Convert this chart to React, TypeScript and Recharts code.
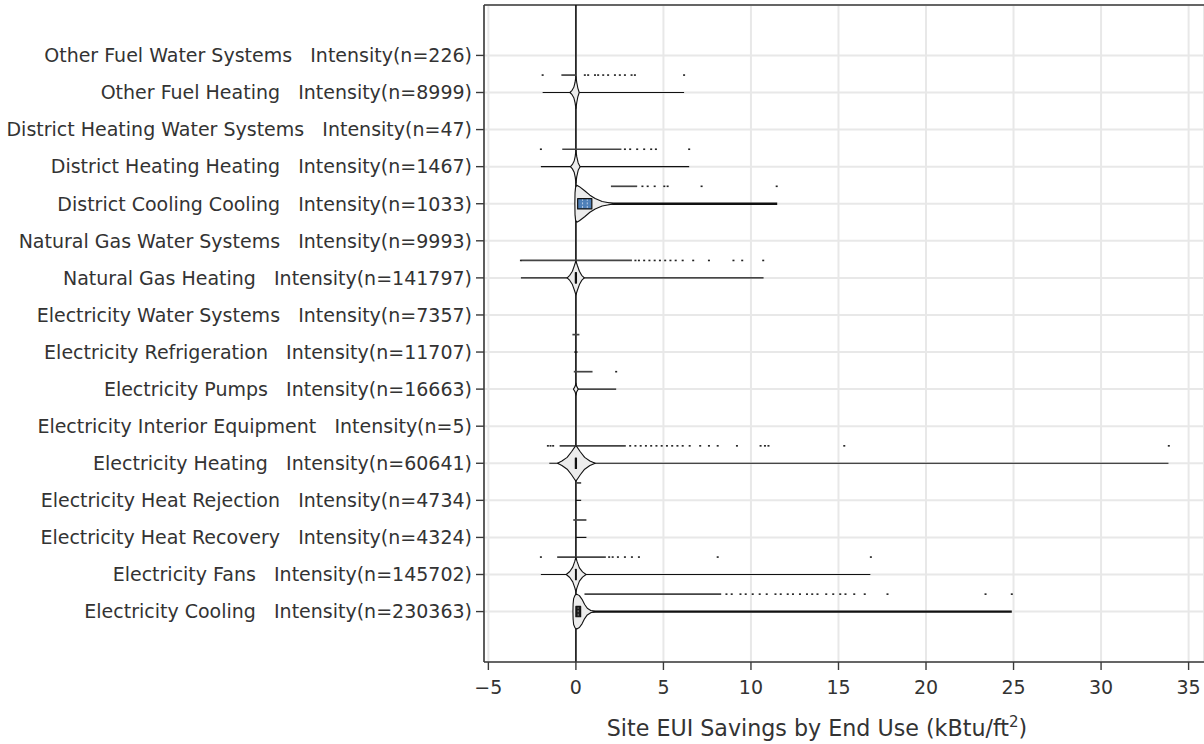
import React from "react";
import {
  ComposedChart,
  Scatter,
  XAxis,
  YAxis,
  CartesianGrid,
  ReferenceLine,
} from "recharts";

// ---------- data (top to bottom as displayed) ----------
const CATEGORIES = [
  "Other Fuel Water Systems",
  "Other Fuel Heating",
  "District Heating Water Systems",
  "District Heating Heating",
  "District Cooling Cooling",
  "Natural Gas Water Systems",
  "Natural Gas Heating",
  "Electricity Water Systems",
  "Electricity Refrigeration",
  "Electricity Pumps",
  "Electricity Interior Equipment",
  "Electricity Heating",
  "Electricity Heat Rejection",
  "Electricity Heat Recovery",
  "Electricity Fans",
  "Electricity Cooling",
];
const COUNTS = [226, 8999, 47, 1467, 1033, 9993, 141797, 7357, 11707, 16663, 5, 60641, 4734, 4324, 145702, 230363];

const X_TICKS = [-5, 0, 5, 10, 15, 20, 25, 30, 35];

const WHISKER_LOW = [0, -1.9, 0, -2.0, 0, 0, -3.14, 0, -0.1, 0, 0, -1.52, 0, 0, -2.0, 0.27];
const WHISKER_HIGH = [0, 6.18, 0, 6.47, 11.5, 0, 10.72, 0, 0.1, 2.3, 0, 33.85, 0.3, 0.6, 16.82, 24.9];

const BOX_Q1 = [null, null, null, null, 0.1, null, -0.03, null, null, null, null, -0.03, null, null, -0.02, 0.0];
const BOX_Q3 = [null, null, null, null, 0.91, null, 0.03, null, null, null, null, 0.03, null, null, 0.02, 0.27];
const BOX_INNER = [[], [], [], [], [0.38, 0.65], [], [], [], [], [], [], [], [], [], [], [0.13]];

// violin profiles: [value, half-width in category units]
const VIOLINS: number[][][] = [
  [],
  [[-0.34, 0], [-0.22, 0.06], [-0.12, 0.14], [-0.05, 0.27], [0, 0.43], [0.05, 0.27], [0.11, 0.12], [0.19, 0]],
  [],
  [[-0.31, 0], [-0.2, 0.06], [-0.1, 0.15], [-0.04, 0.28], [0, 0.44], [0.05, 0.27], [0.13, 0.1], [0.24, 0]],
  [[-0.06, 0], [-0.05, 0.3], [-0.02, 0.44], [0.05, 0.5], [0.2, 0.46], [0.5, 0.35], [0.8, 0.23], [1.1, 0.14], [1.5, 0.06], [2.2, 0]],
  [],
  [[-0.5, 0], [-0.35, 0.07], [-0.2, 0.18], [-0.08, 0.34], [0, 0.46], [0.08, 0.34], [0.2, 0.18], [0.33, 0.07], [0.48, 0]],
  [],
  [],
  [[-0.14, 0], [-0.05, 0.07], [0, 0.16], [0.05, 0.07], [0.13, 0]],
  [],
  [[-1.05, 0], [-0.8, 0.06], [-0.5, 0.16], [-0.25, 0.31], [-0.05, 0.45], [0, 0.48], [0.05, 0.45], [0.25, 0.31], [0.5, 0.16], [0.8, 0.06], [1.1, 0]],
  [],
  [],
  [[-0.55, 0], [-0.35, 0.08], [-0.18, 0.2], [-0.06, 0.36], [0, 0.47], [0.06, 0.36], [0.2, 0.18], [0.38, 0.07], [0.58, 0]],
  [[-0.17, 0], [-0.16, 0.2], [-0.13, 0.35], [-0.05, 0.44], [0.05, 0.47], [0.2, 0.43], [0.35, 0.33], [0.5, 0.19], [0.65, 0.09], [0.85, 0.03], [1.1, 0]],
];

// dense runs of observations (drawn as a solid run) and sparse single observations
const POINT_RUNS: number[][][] = [
  [],
  [[-0.83, 0]],
  [],
  [[-0.78, 2.6]],
  [[2.0, 3.5]],
  [],
  [[-3.1, 3.2]],
  [],
  [[-0.2, 0.2]],
  [[-0.12, 0.95]],
  [],
  [[-0.93, 2.85]],
  [[0, 0.3]],
  [[-0.15, 0.6]],
  [[-1.07, 1.71]],
  [[0.49, 8.3]],
];
const POINT_SINGLES: number[][] = [
  [],
  [-1.9, 0.51, 0.7, 1.09, 1.27, 1.56, 1.84, 2.23, 2.51, 2.8, 3.18, 3.37, 6.18],
  [],
  [-2.0, 2.8, 3.1, 3.5, 3.9, 4.3, 4.57, 6.47],
  [3.8, 4.1, 4.5, 5.05, 5.24, 7.18, 11.47],
  [],
  [-3.14, 3.4, 3.6, 3.9, 4.2, 4.5, 4.8, 5.1, 5.4, 5.7, 6.1, 6.7, 7.6, 9.0, 9.5, 10.7],
  [],
  [],
  [2.3],
  [],
  [-1.6, -1.45, -1.3, 3.1, 3.4, 3.7, 4.0, 4.3, 4.6, 4.9, 5.2, 5.5, 5.8, 6.1, 6.5, 7.1, 7.6, 8.1, 9.2, 10.55, 10.8, 11.0, 15.33, 33.87],
  [],
  [],
  [-2.0, 1.9, 2.1, 2.4, 2.8, 3.2, 3.6, 8.1, 16.85],
  [8.6, 8.9, 9.4, 9.7, 10.1, 10.5, 10.9, 11.4, 11.7, 12.1, 12.4, 12.8, 13.2, 13.5, 13.8, 14.3, 14.7, 15.1, 15.4, 15.9, 16.5, 17.8, 23.4, 24.9],
];

// ---------- layout / style constants ----------
const N = CATEGORIES.length;
const Y_MIN = -1.36;
const Y_MAX = 16.36;
const X_MIN = -5.25;
const X_MAX = 35.88;
const POINT_ROW = 0.47;
const BOX_HALF = 0.14;
const FONT = "DejaVu Sans, Verdana, sans-serif";
const TEXT = "#333";
const AXIS = "#3a3a3a";
const BOLD_WHISKER = new Set(["District Cooling Cooling", "Electricity Cooling"]);
const BOX_FILL: Record<string, string> = {
  "District Cooling Cooling": "#4f80b8",
  "Electricity Cooling": "#1a1a1a",
};
const INNER_STROKE: Record<string, string> = {
  "District Cooling Cooling": "#b9cde6",
  "Electricity Cooling": "#8a8a8a",
};

const pos = (i: number) => N - 1 - i;

const violinData = VIOLINS.map((prof, i) => {
  if (!prof.length) return [];
  const p = pos(i);
  const upper = prof.map(([x, h]) => ({ x, y: p + h }));
  const lower = prof.slice().reverse().map(([x, h]) => ({ x, y: p - h }));
  return [...upper, ...lower];
});

const boxData = CATEGORIES.map((_, i) => {
  const a = BOX_Q1[i];
  const b = BOX_Q3[i];
  if (a == null || b == null) return [];
  const p = pos(i);
  return [
    { x: a, y: p - BOX_HALF },
    { x: a, y: p + BOX_HALF },
    { x: b, y: p + BOX_HALF },
    { x: b, y: p - BOX_HALF },
  ];
});

const innerData = BOX_INNER.map((vals, i) =>
  vals.map((v) => [
    { x: v, y: pos(i) - BOX_HALF * 0.8 },
    { x: v, y: pos(i) + BOX_HALF * 0.8 },
  ])
);

const singlesData = POINT_SINGLES.flatMap((vals, i) => vals.map((x) => ({ x, y: pos(i) + POINT_ROW })));

const polygon = (fill: string, stroke: string, sw: number) => (props: any) => {
  const pts = props.points || [];
  if (!pts.length) return <g />;
  const d = "M" + pts.map((p: any) => `${p.x},${p.y}`).join("L") + "Z";
  return <path d={d} fill={fill} stroke={stroke} strokeWidth={sw} strokeLinejoin="round" />;
};

const segment = (stroke: string, sw: number, dash?: string) => (props: any) => {
  const pts = props.points || [];
  if (!pts.length) return <g />;
  const d = "M" + pts.map((p: any) => `${p.x},${p.y}`).join("L");
  return <path d={d} fill="none" stroke={stroke} strokeWidth={sw} strokeDasharray={dash} />;
};

const Nothing = () => <g />;

const Dot = (props: any) => {
  const { cx, cy } = props;
  if (cx == null || cy == null) return <g />;
  return <rect x={cx - 1} y={cy - 0.8} width={2} height={1.6} fill="#222" />;
};

const YTick = (props: any) => {
  const { x, y, payload } = props;
  const i = N - 1 - payload.value;
  if (i < 0 || i >= N) return <g />;
  return (
    <text x={x} y={y} dy="0.36em" textAnchor="end" fontSize={19} fill={TEXT} fontFamily={FONT}>
      <tspan>{CATEGORIES[i] + "\u00A0\u00A0\u00A0"}</tspan>
      <tspan>{"Intensity(n=" + COUNTS[i] + ")"}</tspan>
    </text>
  );
};

const XTick = (props: any) => {
  const { x, y, payload } = props;
  const v = payload.value;
  const s = v < 0 ? "\u2212" + Math.abs(v) : String(v);
  return (
    <text x={x} y={y} dy="0.71em" textAnchor="middle" fontSize={19} fill={TEXT} fontFamily={FONT}>
      {s}
    </text>
  );
};

const XTitle = (props: any) => {
  const vb = props.viewBox || { x: 0, y: 0, width: 0 };
  return (
    <text x={vb.x + vb.width / 2 - 27} y={vb.y + 74} textAnchor="middle" fontSize={22.2} fill={TEXT} fontFamily={FONT}>
      Site EUI Savings by End Use (kBtu/ft
      <tspan dy={-9} fontSize={15}>2</tspan>
      <tspan dy={9}>)</tspan>
    </text>
  );
};

export default function App() {
  return (
    <div style={{ position: "absolute", left: 0, top: 0, width: 1204, height: 744, background: "#fff" }}>
      <ComposedChart width={1204} height={744} margin={{ top: 5, right: 0, bottom: 0, left: 0 }}>
        <CartesianGrid stroke="#e8e8e8" strokeWidth={2} />
        <XAxis
          type="number"
          dataKey="x"
          domain={[X_MIN, X_MAX]}
          ticks={X_TICKS}
          allowDataOverflow
          height={82}
          tickSize={8}
          tickMargin={11}
          tick={<XTick />}
          axisLine={{ stroke: AXIS, strokeWidth: 1.6 }}
          tickLine={{ stroke: AXIS, strokeWidth: 1.4 }}
          label={{ content: <XTitle /> }}
        />
        <YAxis
          type="number"
          dataKey="y"
          domain={[Y_MIN, Y_MAX]}
          ticks={Array.from({ length: N }, (_, k) => k)}
          allowDataOverflow
          width={484}
          tickSize={8}
          tickMargin={4}
          tick={<YTick />}
          axisLine={{ stroke: AXIS, strokeWidth: 1.6 }}
          tickLine={{ stroke: AXIS, strokeWidth: 1.4 }}
        />
        <ReferenceLine y={Y_MAX} stroke={AXIS} strokeWidth={1.6} />
        <ReferenceLine x={0} stroke="#111" strokeWidth={1.6} />

        {CATEGORIES.map((c, i) =>
          WHISKER_HIGH[i] - WHISKER_LOW[i] > 0 ? (
            <ReferenceLine
              key={"w" + i}
              segment={[
                { x: WHISKER_LOW[i], y: pos(i) },
                { x: WHISKER_HIGH[i], y: pos(i) },
              ]}
              stroke="#111"
              strokeWidth={BOLD_WHISKER.has(c) ? 2.4 : 1.2}
            />
          ) : null
        )}

        {POINT_RUNS.flatMap((runs, i) =>
          runs.map(([a, b], k) => (
            <ReferenceLine
              key={"r" + i + "-" + k}
              segment={[
                { x: a, y: pos(i) + POINT_ROW },
                { x: b, y: pos(i) + POINT_ROW },
              ]}
              stroke="#444"
              strokeWidth={1.7}
            />
          ))
        )}

        {violinData.map((d, i) =>
          d.length ? (
            <Scatter
              key={"v" + i}
              data={d}
              isAnimationActive={false}
              line={polygon("#ececec", "#111", 1.1)}
              lineType="joint"
              shape={Nothing}
              fill="#111"
            />
          ) : null
        )}

        {boxData.map((d, i) =>
          d.length ? (
            <Scatter
              key={"b" + i}
              data={d}
              isAnimationActive={false}
              line={polygon(BOX_FILL[CATEGORIES[i]] || "#111", "#111", 1.2)}
              lineType="joint"
              shape={Nothing}
              fill="#111"
            />
          ) : null
        )}

        {innerData.flatMap((segs, i) =>
          segs.map((d, k) => (
            <Scatter
              key={"m" + i + "-" + k}
              data={d}
              isAnimationActive={false}
              line={segment(INNER_STROKE[CATEGORIES[i]] || "#888", 1, "2 1.5")}
              lineType="joint"
              shape={Nothing}
              fill="#111"
            />
          ))
        )}

        <Scatter data={singlesData} isAnimationActive={false} shape={Dot} fill="#222" />
      </ComposedChart>
    </div>
  );
}
